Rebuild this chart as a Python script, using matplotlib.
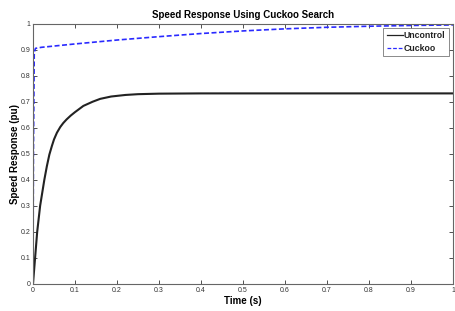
import numpy as np
import matplotlib.pyplot as plt

# values
t_unc = [0, 0.005, 0.01, 0.017, 0.027, 0.033, 0.039, 0.045, 0.05, 0.057, 0.065,
         0.072, 0.08, 0.09, 0.1, 0.12, 0.142, 0.16, 0.186, 0.22, 0.25, 0.3, 0.4, 1.0]
v_unc = [0, 0.1, 0.2, 0.3, 0.4, 0.452, 0.497, 0.53, 0.555, 0.581, 0.603,
         0.618, 0.632, 0.647, 0.66, 0.684, 0.70, 0.711, 0.72, 0.726, 0.729, 0.731, 0.732, 0.732]

t_cuc = [0, 0.001, 0.003, 0.006, 0.02, 0.1, 0.2, 0.3, 0.4, 0.5, 0.6, 0.7,
         0.8, 0.9, 1.0]
v_cuc = [0, 0.5, 0.89, 0.905, 0.909, 0.922, 0.937, 0.95, 0.962, 0.972,
         0.98, 0.986, 0.99, 0.993, 0.995]

xticks = np.round(np.arange(0, 1.01, 0.1), 1)
yticks = np.round(np.arange(0, 1.01, 0.1), 1)
tick_labels = ['0', '0.1', '0.2', '0.3', '0.4', '0.5', '0.6', '0.7', '0.8', '0.9', '1']

plt.rcParams['font.family'] = ['Liberation Sans', 'DejaVu Sans']

fig = plt.figure(figsize=(4.55, 3.11), dpi=100)
ax = fig.add_axes([0.0725, 0.087, 0.923, 0.837])

ax.plot(t_unc, v_unc, color='#222222', lw=1.5, label='Uncontrol')
ax.plot(t_cuc, v_cuc, color='#2a2aff', lw=1.2, ls=(0, (3, 1.5)), label='Cuckoo')

ax.set_xlim(0, 1)
ax.set_ylim(0, 1)
ax.set_xticks(xticks)
ax.set_yticks(yticks)
ax.set_xticklabels(tick_labels)
ax.set_yticklabels(tick_labels)
ax.tick_params(direction='in', top=True, right=True, length=3, width=0.6,
               labelsize=5, pad=2, colors='#333333')
for s in ax.spines.values():
    s.set_color('#666666')
    s.set_linewidth(0.8)

ax.set_title('Speed Response Using Cuckoo Search', fontsize=7, fontweight='bold', pad=4)
ax.set_xlabel('Time (s)', fontsize=7, fontweight='bold', labelpad=2)
ax.set_ylabel('Speed Response (pu)', fontsize=7, fontweight='bold', labelpad=0)

leg = ax.legend(loc='upper right', prop={'size': 6.3, 'weight': 'bold'}, frameon=True,
                fancybox=False, handlelength=1.8, handletextpad=0.15, borderpad=0.4,
                labelspacing=0.4, borderaxespad=0.45)
leg.get_frame().set_edgecolor('#555555')
leg.get_frame().set_linewidth(0.6)
for line in leg.get_lines():
    line.set_linewidth(0.9)
for txt in leg.get_texts():
    txt.set_color('#222222')

plt.savefig('out.png', dpi=100)
